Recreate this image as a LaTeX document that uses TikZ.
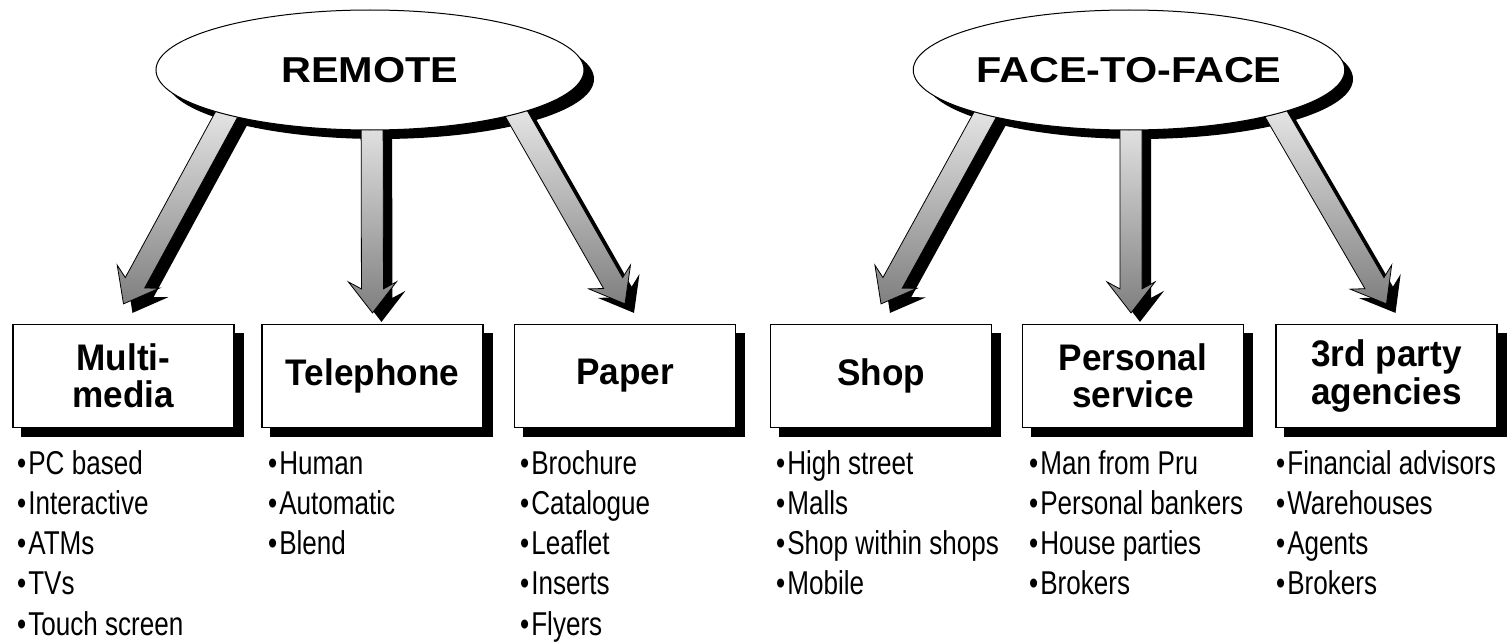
\documentclass[tikz,border=0pt]{standalone}
\usepackage{fontspec}
\setmainfont{Liberation Sans}
\newfontfamily\listfont{Liberation Sans}[FakeStretch=0.79]
\newfontfamily\titlefont{Liberation Sans}[FakeStretch=0.95]
\newfontfamily\ovalfont{Liberation Sans}[FakeStretch=1.15]
\usetikzlibrary{calc,shapes.geometric}
\pgfdeclarelayer{shadowlayer}
\pgfdeclarelayer{arrowlayer}
\pgfsetlayers{shadowlayer,arrowlayer,main}
\tikzset{
  oval/.style={ellipse, draw=black, line width=1pt, fill=white, minimum width=428pt, minimum height=120pt, inner sep=0pt, font=\ovalfont\bfseries\fontsize{36}{40}\selectfont},
  chanbox/.style={draw=black, line width=1.2pt, fill=white, minimum height=103pt, minimum width=221pt, inner sep=0pt, align=center, font=\titlefont\bfseries\fontsize{37}{37.5}\selectfont},
  item/.style={anchor=base west, inner sep=0pt, font=\listfont\fontsize{33}{40}\selectfont},
  shadowfill/.style={fill=black},
  arrowbody/.style={draw=black, line width=0.8pt, top color=white, bottom color=black!50},
}
\newcommand{\blockarrow}[2]{%
  \coordinate (ba) at ($(#2)!24pt!(#1)$);
  \coordinate (bb) at ($(#2)!31pt!(#1)$);
  \coordinate (q1) at ($(#1)!11pt!90:(#2)$);
  \coordinate (q2) at ($(ba)!11pt!90:(#2)$);
  \coordinate (q3) at ($(bb)!24pt!90:(#2)$);
  \coordinate (q4) at ($(bb)!24pt!-90:(#2)$);
  \coordinate (q5) at ($(ba)!11pt!-90:(#2)$);
  \coordinate (q6) at ($(#1)!11pt!-90:(#2)$);
  \fill[shadowfill] ($(q1)+(9,9)$) -- ($(q2)+(9,9)$) -- ($(q3)+(9,9)$) -- ($(#2)+(9,9)$) -- ($(q4)+(9,9)$) -- ($(q5)+(9,9)$) -- ($(q6)+(9,9)$) -- cycle;
  \draw[arrowbody] (q1) -- (q2) -- (q3) -- (#2) -- (q4) -- (q5) -- (q6) -- cycle;
}
\begin{document}
\begin{tikzpicture}[x=1pt,y=-1pt]
\useasboundingbox (0,0) rectangle (1510,642);
% ovals
\node[oval] (rem) at (370,70) {\raisebox{-3pt}{REMOTE}};
\node[oval] (f2f) at (1129,70) {\raisebox{-3pt}{FACE-TO-FACE}};
% boxes
\node[chanbox] (b1) at (123.5,376) {Multi-\\media};
\node[chanbox] (b2) at (372.5,376) {Telephone};
\node[chanbox] (b3) at (625,376) {Paper};
\node[chanbox] (b4) at (881,376) {Shop};
\node[chanbox] (b5) at (1133,376) {Personal\\service};
\node[chanbox] (b6) at (1386.5,376) {3rd party\\agencies};
% arrow end points
\coordinate (r1s) at ($(rem.center)+(-116,-6)$);
\coordinate (r1t) at ($(b1.north)+(0,-20)$);
\coordinate (r2s) at ($(rem.center)+(2,0)$);
\coordinate (r2t) at ($(b2.north)+(0,-11)$);
\coordinate (r3s) at ($(rem.center)+(118,-6)$);
\coordinate (r3t) at ($(b3.north)+(0,-20)$);
\coordinate (f1s) at ($(f2f.center)+(-116,-6)$);
\coordinate (f1t) at ($(b4.north)+(0,-20)$);
\coordinate (f2s) at ($(f2f.center)+(2,0)$);
\coordinate (f2t) at ($(b5.north)+(-2,-11)$);
\coordinate (f3s) at ($(f2f.center)+(118,-6)$);
\coordinate (f3t) at ($(b6.north)+(0,-20)$);
\begin{pgfonlayer}{shadowlayer}
  \fill[shadowfill] ($(rem.center)+(10,9)$) ellipse [x radius=214pt, y radius=60pt];
  \fill[shadowfill] ($(f2f.center)+(10,9)$) ellipse [x radius=214pt, y radius=60pt];
  \foreach \b in {b1,b2,b3,b4,b5,b6}
    \fill[shadowfill] ($(\b.north west)+(9,9)$) rectangle ($(\b.south east)+(9,9)$);
\end{pgfonlayer}
\begin{pgfonlayer}{arrowlayer}
  \blockarrow{r1s}{r1t}
  \blockarrow{r2s}{r2t}
  \blockarrow{r3s}{r3t}
  \blockarrow{f1s}{f1t}
  \blockarrow{f2s}{f2t}
  \blockarrow{f3s}{f3t}
\end{pgfonlayer}
% lists
\foreach [count=\i] \t in {PC based, Interactive, ATMs, TVs, Touch screen}
  \node[item] (la\i) at (17,{474+40.3*(\i-1)}) {\textbullet\kern2pt\t};
\foreach [count=\i] \t in {Human, Automatic, Blend}
  \node[item] (lb\i) at (268,{474+40.3*(\i-1)}) {\textbullet\kern2pt\t};
\foreach [count=\i] \t in {Brochure, Catalogue, Leaflet, Inserts, Flyers}
  \node[item] (lc\i) at (520,{474+40.3*(\i-1)}) {\textbullet\kern2pt\t};
\foreach [count=\i] \t in {High street, Malls, Shop within shops, Mobile}
  \node[item] (ld\i) at (776,{474+40.3*(\i-1)}) {\textbullet\kern2pt\t};
\foreach [count=\i] \t in {Man from Pru, Personal bankers, House parties, Brokers}
  \node[item] (le\i) at (1029,{474+40.3*(\i-1)}) {\textbullet\kern2pt\t};
\foreach [count=\i] \t in {Financial advisors, Warehouses, Agents, Brokers}
  \node[item] (lf\i) at (1276,{474+40.3*(\i-1)}) {\textbullet\kern2pt\t};
\end{tikzpicture}
\end{document}
